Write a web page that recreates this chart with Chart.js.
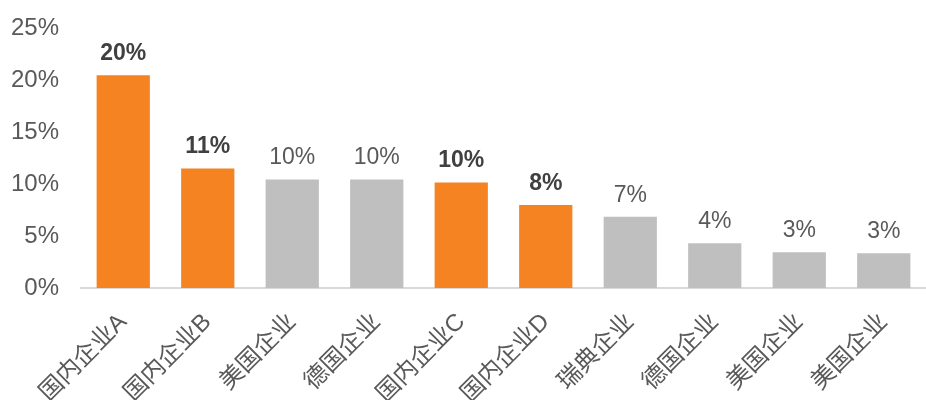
<!DOCTYPE html>
<html>
<head>
<meta charset="utf-8">
<script src="https://cdn.jsdelivr.net/npm/chart.js@4"></script>
<style>
  html, body { margin: 0; padding: 0; background: #fff; }
  #wrap { width: 926px; height: 400px; }
</style>
</head>
<body>
<div id="wrap"><canvas id="chart"></canvas></div>
<script>
const categories = ['国内企业A', '国内企业B', '美国企业', '德国企业', '国内企业C', '国内企业D', '瑞典企业', '德国企业', '美国企业', '美国企业'];
const shares = [20.5, 11.5, 10.45, 10.45, 10.15, 8.0, 6.85, 4.3, 3.45, 3.35];
const shareLabels = ['20%', '11%', '10%', '10%', '10%', '8%', '7%', '4%', '3%', '3%'];
const highlighted = [true, true, false, false, true, true, false, false, false, false];
const yTicks = [0, 5, 10, 15, 20, 25];

const ORANGE = '#f58322';
const GRAY = '#bfbfbf';
const FONT = '"Liberation Sans", Arial, "Noto Sans CJK SC", sans-serif';

// labels above the bars
const barLabels = {
    id: 'barLabels',
    afterDatasetsDraw(chart) {
        const ctx = chart.ctx;
        const meta = chart.getDatasetMeta(0);
        ctx.save();
        ctx.textAlign = 'center';
        ctx.textBaseline = 'bottom';
        meta.data.forEach((bar, i) => {
            ctx.font = (highlighted[i] ? 'bold ' : '') + '23px ' + FONT;
            ctx.fillStyle = highlighted[i] ? '#404040' : '#595959';
            ctx.fillText(shareLabels[i], bar.x, bar.y - 10);
        });
        ctx.restore();
    }
};

new Chart(document.getElementById('chart'), {
    type: 'bar',
    data: {
        labels: categories,
        datasets: [{
            data: shares,
            backgroundColor: highlighted.map(h => h ? ORANGE : GRAY),
            categoryPercentage: 1,
            barPercentage: 0.63
        }]
    },
    options: {
        responsive: true,
        maintainAspectRatio: false,
        animation: false,
        layout: { padding: { top: -8, right: 0, left: 0, bottom: 0 } },
        plugins: {
            legend: { display: false },
            tooltip: { enabled: false }
        },
        scales: {
            x: {
                grid: { display: false },
                border: { color: '#d9d9d9', width: 2 },
                afterFit(axis) { axis.height = 112; },
                ticks: {
                    color: '#595959',
                    font: { size: 24, family: FONT },
                    maxRotation: 45,
                    minRotation: 45,
                    padding: 12
                }
            },
            y: {
                min: 0,
                max: 25,
                grid: { display: false },
                border: { display: false },
                afterFit(axis) { axis.width = 81; },
                afterBuildTicks(axis) {
                    axis.ticks = yTicks.map(v => ({ value: v }));
                },
                ticks: {
                    color: '#595959',
                    font: { size: 24, family: FONT },
                    padding: 14,
                    callback: v => v + '%'
                }
            }
        }
    },
    plugins: [barLabels]
});
</script>
</body>
</html>
